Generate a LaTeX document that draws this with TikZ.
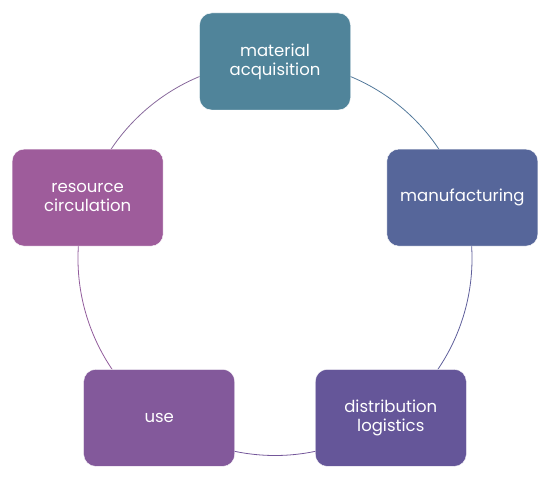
\documentclass[tikz,border=0pt]{standalone}
\usepackage{fontspec}
\setmainfont{Poppins}
\usetikzlibrary{positioning,backgrounds}
\definecolor{cacq}{RGB}{80,132,154}
\definecolor{cman}{RGB}{86,102,154}
\definecolor{cdis}{RGB}{101,86,153}
\definecolor{cuse}{RGB}{131,89,155}
\definecolor{cres}{RGB}{158,92,155}

\begin{document}
\begin{tikzpicture}[x=1pt,y=1pt]
  \useasboundingbox (0,0) rectangle (550,483);
  \coordinate (o) at (275,224.5);
  \begin{scope}[shift={(o)},every node/.style={draw=white,thin,rounded corners=12pt,
      minimum width=151pt,minimum height=97pt,align=center,text=white,
      font=\fontsize{16.5}{19}\selectfont}]
    \node[fill=cacq] (acq) at (90:197) {material\\acquisition};
    \node[fill=cman] (man) at (18:197) {manufacturing};
    \node[fill=cdis] (dis) at (-54:197) {distribution\\logistics};
    \node[fill=cuse] (use) at (-126:197) {use};
    \node[fill=cres] (res) at (162:197) {resource\\circulation};
  \end{scope}

  \begin{pgfonlayer}{background}
    \begin{scope}[line width=0.8pt]
      \draw[cacq!60!cman] (acq.center) arc[start angle=90,end angle=18,radius=197pt];
      \draw[cman!50!cdis] (man.center) arc[start angle=18,end angle=-54,radius=197pt];
      \draw[cdis!50!cuse] (dis.center) arc[start angle=-54,end angle=-126,radius=197pt];
      \draw[cuse!50!cres] (use.center) arc[start angle=-126,end angle=-198,radius=197pt];
      \draw[cres!70!cacq] (res.center) arc[start angle=162,end angle=90,radius=197pt];
    \end{scope}
  \end{pgfonlayer}
\end{tikzpicture}
\end{document}
